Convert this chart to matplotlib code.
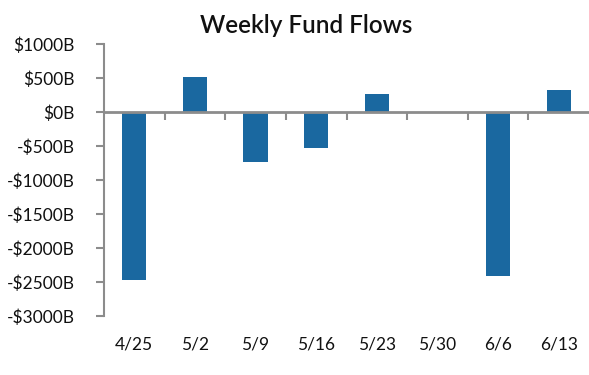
import matplotlib.pyplot as plt
from matplotlib.transforms import blended_transform_factory

weeks = ["4/25", "5/2", "5/9", "5/16", "5/23", "5/30", "6/6", "6/13"]
flows = [-2470, 520, -740, -525, 260, -10, -2410, 320]
yticks = [1000, 500, 0, -500, -1000, -1500, -2000, -2500, -3000]

plt.rcParams['font.family'] = ['Lato', 'DejaVu Sans']

bar_color = '#1a68a0'
axis_color = '#8c8c8c'

fig = plt.figure(figsize=(5.89, 3.75), dpi=100)
ax = fig.add_axes([0.1766, 0.157, 0.8234, 0.726])

x = list(range(len(weeks)))
ax.bar(x, flows, width=0.4, color=bar_color, zorder=2)

ax.set_xlim(-0.5, len(weeks) - 0.5)
ax.set_ylim(-3000, 1000)

# y axis
ax.set_yticks(yticks)
ax.set_yticklabels([f"${v}B" if v >= 0 else f"-${-v}B" for v in yticks])
ax.tick_params(axis='y', length=6, width=1.5, color=axis_color,
               labelsize=12.5, pad=15, labelcolor='#111111')

# x axis sits at zero, ticks between categories
for s in ['top', 'right']:
    ax.spines[s].set_visible(False)
ax.spines['left'].set_color(axis_color)
ax.spines['left'].set_linewidth(1.5)
ax.spines['bottom'].set_position(('data', 0))
ax.spines['bottom'].set_color(axis_color)
ax.spines['bottom'].set_linewidth(2)
ax.spines['bottom'].set_zorder(3)
ax.set_xticks([i + 0.5 for i in range(len(weeks) - 1)])
ax.set_xticklabels([])
ax.tick_params(axis='x', length=6, width=1.5, color=axis_color, direction='out')

trans = blended_transform_factory(ax.transData, ax.transAxes)
for i, w in enumerate(weeks):
    ax.text(i, -0.103, w, transform=trans, ha='center', va='center',
            fontsize=12.5, color='#111111')

fig.text(0.52, 0.933, "Weekly Fund Flows", ha='center', va='center',
         fontsize=17.5, fontweight='semibold', color='#111111')

plt.savefig("out.png", dpi=100)
